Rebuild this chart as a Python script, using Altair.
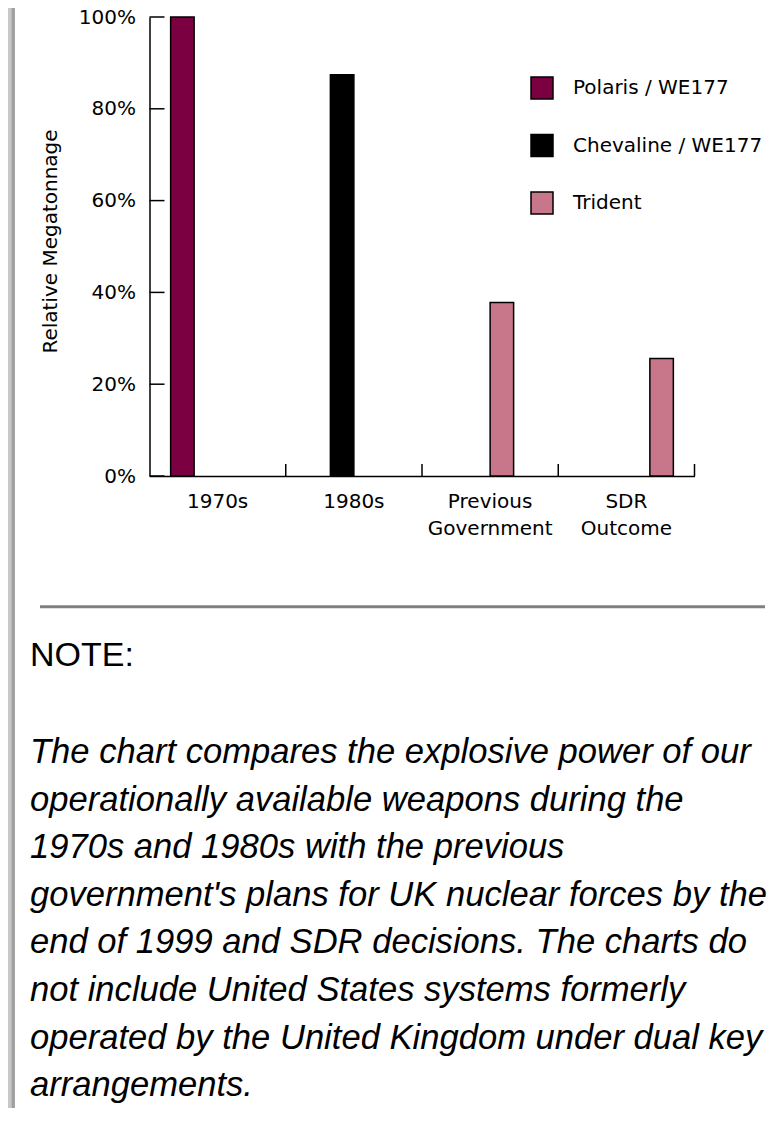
import altair as alt
import pandas as pd

# ---- data ----
categories = ["1970s", "1980s", "Previous Government", "SDR Outcome"]
systems = ["Polaris / WE177", "Chevaline / WE177", "Trident", "Trident"]
megatonnage = [100, 87.4, 37.8, 25.6]
legend_order = ["Polaris / WE177", "Chevaline / WE177", "Trident"]
legend_colors = ["#7B0041", "#000000", "#C8768A"]
y_ticks = [0, 20, 40, 60, 80, 100]
y_title = "Relative Megatonnage"
note_title = "NOTE:"
note_lines = [
    "The chart compares the explosive power of our",
    "operationally available weapons during the",
    "1970s and 1980s with the previous",
    "government's plans for UK nuclear forces by the",
    "end of 1999 and SDR decisions. The charts do",
    "not include United States systems formerly",
    "operated by the United Kingdom under dual key",
    "arrangements.",
]

df = pd.DataFrame({"category": categories, "system": systems, "value": megatonnage})
ticks_df = pd.DataFrame({"value": y_ticks})
one = pd.DataFrame({"k": [0]})

FONT = "DejaVu Sans"
W, H = 545, 459

x_axis = alt.Axis(
    title=None, labelExpr="split(datum.label, ' ')", labelAngle=0,
    labelFont=FONT, labelFontSize=20, labelColor="black", labelPadding=15,
    labelLineHeight=27, labelBaseline="top", ticks=False, tickSize=0,
    domainColor="black", domainWidth=1.5, grid=False,
)
x_scale = alt.Scale(paddingInner=0, paddingOuter=0)

y_enc = alt.Y(
    "value:Q",
    scale=alt.Scale(domain=[0, 100], nice=False, zero=True),
    axis=alt.Axis(
        values=y_ticks, labelExpr="datum.value + '%'", title=y_title,
        titleFont=FONT, titleFontSize=20, titleFontWeight="normal", titleColor="black",
        titleAngle=270, titleX=-93, titleY=224, titleAlign="center", titleBaseline="alphabetic",
        labelFont=FONT, labelFontSize=20, labelColor="black", labelPadding=14,
        ticks=False, tickSize=0, grid=False, domainColor="black", domainWidth=1.5,
    ),
)

bars = alt.Chart(df).mark_bar(stroke="black", strokeWidth=1.5).encode(
    x=alt.X("category:N", sort=categories, scale=x_scale, axis=x_axis),
    xOffset=alt.XOffset("category:N", sort=categories,
                        scale=alt.Scale(paddingInner=0, paddingOuter=0.9)),
    y=y_enc,
    color=alt.Color(
        "system:N",
        scale=alt.Scale(domain=legend_order, range=legend_colors),
        legend=alt.Legend(
            title=None, orient="none", legendX=380.5, legendY=59, padding=0,
            symbolType="square", symbolSize=484, symbolStrokeColor="black",
            symbolStrokeWidth=1.5, symbolOpacity=1,
            labelFont=FONT, labelFontSize=20, labelColor="black", labelOffset=19,
            rowPadding=29.5, labelLimit=300,
        ),
    ),
)

ytick_rules = alt.Chart(ticks_df).mark_rule(color="black", strokeWidth=1.5).encode(
    y=y_enc, x=alt.value(0), x2=alt.value(15)
)

xtick_rules = alt.Chart(df).mark_rule(color="black", strokeWidth=1.5).encode(
    x=alt.X("category:N", sort=categories, scale=x_scale, axis=x_axis, bandPosition=1),
    y=alt.value(H), y2=alt.value(H - 12),
)

border_light = alt.Chart(one).mark_rule(color="#c8c8c8", strokeWidth=4.4).encode(
    x=alt.value(-139.7), y=alt.value(-9), y2=alt.value(1100)
)
border_dark = alt.Chart(one).mark_rule(color="#a0a0a0", strokeWidth=3.3).encode(
    x=alt.value(-136.2), y=alt.value(-9), y2=alt.value(1100)
)
hr = alt.Chart(one).mark_rule(color="#808080", strokeWidth=3).encode(
    x=alt.value(-109.5), x2=alt.value(615.5), y=alt.value(589.7)
)
note_head = alt.Chart(one).mark_text(
    text=note_title, font="Liberation Sans", fontSize=34, align="left",
    baseline="alphabetic", color="black",
).encode(x=alt.value(-119.5), y=alt.value(649))
note_body = alt.Chart(one).mark_text(
    text=note_lines, font="Liberation Sans", fontSize=34.6, fontStyle="italic",
    align="left", baseline="alphabetic", lineHeight=47.6, color="black",
).encode(x=alt.value(-119.5), y=alt.value(746))

chart = alt.layer(
    border_light, border_dark, hr, note_head, note_body, bars, ytick_rules, xtick_rules
).properties(
    width=W, height=H,
    autosize=alt.AutoSizeParams(type="none"),
    padding={"left": 141.5, "top": 9, "right": 73.5, "bottom": 632},
).configure(font=FONT, background="white").configure_view(strokeWidth=0, stroke="transparent")

chart.save("out.html", embed_options={"renderer": "svg", "actions": False})
